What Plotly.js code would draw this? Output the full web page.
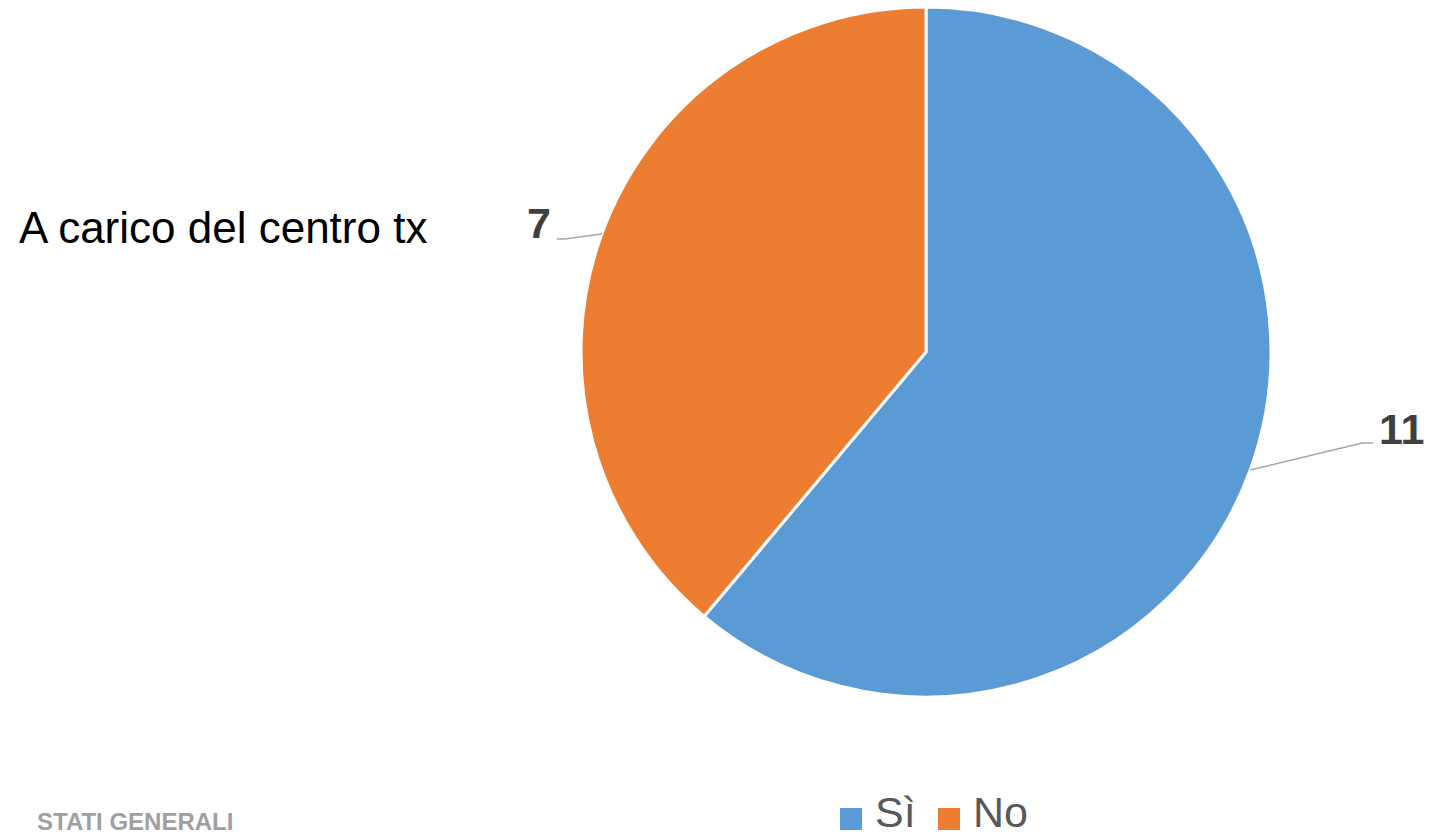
<!DOCTYPE html>
<html>
<head>
<meta charset="utf-8">
<script src="https://cdn.plot.ly/plotly-3.0.1.min.js"></script>
<style>html,body{margin:0;padding:0;background:#fff;}#chart{width:1430px;height:837px;}</style>
</head>
<body>
<div id="chart"></div>
<script>
const categories = ["Sì", "No"];
const values = [11, 7];
const colors = ["#5B9BD5", "#ED7D31"];
const chartTitle = "A carico del centro tx";
const footerText = "STATI GENERALI";

const W = 1430, H = 837;
const cx = 926, cy = 352, R = 345;
const px = x => x / W;
const py = y => 1 - y / H;

// label leader layout (styling offsets, pixels)
const leader = [
  {bend: [112, -27], tail: 11, side: 1, dyText: -14},
  {bend: [-37, 5], tail: -8, side: -1, dyText: -16}
];
// legend layout (styling, pixels)
const legendItemX = [840, 938];
const legendY = 819;
const legendBox = 22;

const total = values.reduce((a, b) => a + b, 0);
const shapes = [];
const annotations = [];
let acc = 0;
values.forEach((v, i) => {
  const mid = (acc + v / 2) / total * 2 * Math.PI;
  acc += v;
  const ex = cx + R * Math.sin(mid);
  const ey = cy - R * Math.cos(mid);
  const bx = ex + leader[i].bend[0];
  const by = ey + leader[i].bend[1];
  const tx = bx + leader[i].tail;
  shapes.push({
    type: 'path', xref: 'paper', yref: 'paper',
    path: `M${px(ex)},${py(ey)} L${px(bx)},${py(by)} L${px(tx)},${py(by)}`,
    line: {color: '#A6A6A6', width: 1.5}
  });
  annotations.push({
    xref: 'paper', yref: 'paper',
    x: px(tx + leader[i].side * 4), y: py(by + leader[i].dyText),
    xanchor: leader[i].side > 0 ? 'left' : 'right', yanchor: 'middle',
    text: '<b>' + v + '</b>', showarrow: false,
    font: {family: 'Liberation Sans, Arial, sans-serif', size: 43, color: '#404040'}
  });
});

// legend
categories.forEach((c, i) => {
  const x0 = legendItemX[i];
  shapes.push({
    type: 'rect', xref: 'paper', yref: 'paper',
    x0: px(x0), x1: px(x0 + legendBox),
    y0: py(legendY - legendBox / 2), y1: py(legendY + legendBox / 2),
    fillcolor: colors[i], line: {width: 0}
  });
  annotations.push({
    xref: 'paper', yref: 'paper', x: px(x0 + legendBox + 12), y: 0,
    xanchor: 'left', yanchor: 'bottom', borderpad: 0, text: c, showarrow: false,
    font: {family: 'Liberation Sans, Arial, sans-serif', size: 43, color: '#595959'}
  });
});

annotations.push({
  xref: 'paper', yref: 'paper', x: px(35), y: 0, xanchor: 'left', yanchor: 'bottom',
  text: '<b>' + footerText + '</b>', showarrow: false,
  font: {family: 'Liberation Sans, Arial, sans-serif', size: 24, color: '#A0A0A0'}
});

const data = [{
  type: 'pie',
  labels: categories,
  values: values,
  sort: false,
  direction: 'clockwise',
  rotation: 0,
  textinfo: 'none',
  hoverinfo: 'label+value',
  marker: {colors: colors, line: {color: '#FFFFFF', width: 3}},
  domain: {x: [px(cx - R), px(cx + R)], y: [py(cy + R), py(cy - R)]}
}];

const layout = {
  width: W, height: H,
  margin: {l: 0, r: 0, t: 0, b: 0, autoexpand: false},
  paper_bgcolor: '#FFFFFF',
  title: {
    text: chartTitle, x: px(19), xanchor: 'left', xref: 'paper',
    y: py(228), yanchor: 'middle', yref: 'paper',
    font: {family: 'Liberation Sans, Arial, sans-serif', size: 44, color: '#000000'}
  },
  showlegend: false,
  shapes: shapes,
  annotations: annotations
};

Plotly.newPlot('chart', data, layout, {displayModeBar: false, staticPlot: true});
</script>
</body>
</html>
